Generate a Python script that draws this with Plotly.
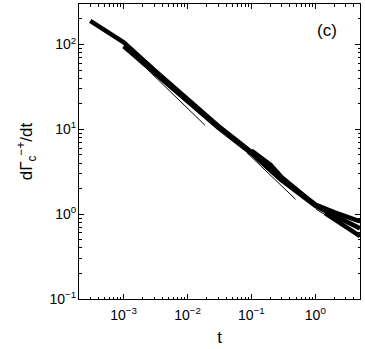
import plotly.graph_objects as go

# Thick simulation curves (t, dGamma/dt)
tA = [3e-4, 1e-3, 3e-3, 1e-2, 3e-2, 0.1, 0.2, 0.3, 1, 2, 5]
yA = [190, 106, 50, 22.5, 11, 5.4, 3.6, 2.6, 1.3, 1.05, 0.82]

tB = [1e-3, 3e-3, 1e-2, 3e-2, 0.1, 0.3, 1, 2, 5]
yB = [95, 47, 21.5, 10.5, 5.2, 2.5, 1.25, 0.95, 0.68]

tC = [5e-3, 1e-2, 3e-2, 0.1, 0.3]
yC = [34, 22, 10.8, 5.3, 2.5]

tD = [0.1, 0.15, 0.2, 0.3, 1]
yD = [5.6, 4.5, 3.8, 2.7, 1.28]

tE = [1.42, 2, 5]
yE = [1.03, 0.86, 0.55]

# Thin fit lines
tF1 = [1e-3, 0.0187]
yF1 = [95, 11.2]
tF2 = [0.085, 0.49]
yF2 = [5.3, 1.5]
tF3 = [1.03, 1.48]
yF3 = [1.14, 0.97]

# Tick labels
x_tickvals = [1e-3, 1e-2, 1e-1, 1]
x_ticktext = ["10<sup>−3</sup>", "10<sup>−2</sup>", "10<sup>−1</sup>", "10<sup>0</sup>"]
y_tickvals = [0.1, 1, 10, 100]
y_ticktext = ["10<sup>−1</sup>", "10<sup>0</sup>", "10<sup>1</sup>", "10<sup>2</sup>"]

thick = [(tA, yA), (tB, yB), (tC, yC), (tD, yD), (tE, yE)]
thin = [(tF1, yF1), (tF2, yF2), (tF3, yF3)]

fig = go.Figure()
for t, y in thick:
    fig.add_trace(go.Scatter(x=t, y=y, mode="lines",
                             line=dict(color="black", width=4.5),
                             showlegend=False, hoverinfo="skip"))
for t, y in thin:
    fig.add_trace(go.Scatter(x=t, y=y, mode="lines",
                             line=dict(color="black", width=1),
                             showlegend=False, hoverinfo="skip"))

def minor_vals(lo, hi):
    vals = []
    for e in range(lo, hi + 1):
        for m in range(2, 10):
            vals.append(m * 10.0 ** e)
    return vals

FONT = "Liberation Sans"

axis_common = dict(
    type="log", showgrid=False, zeroline=False, automargin=False,
    showline=True, linecolor="black", linewidth=1, mirror="ticks",
    ticks="inside", ticklen=5, tickcolor="black", tickmode="array",
    tickfont=dict(size=14, color="black", family=FONT),
)

fig.update_xaxes(range=[-3.699, 0.699],
                 tickvals=x_tickvals, ticktext=x_ticktext,
                 ticklabelstandoff=3,
                 minor=dict(ticks="inside", ticklen=2.5, tickcolor="black",
                            tickvals=minor_vals(-4, 0), showgrid=False),
                 title=dict(text="t", font=dict(size=17, color="black", family=FONT), standoff=9),
                 **axis_common)
fig.update_yaxes(range=[-1, 2.4771],
                 tickvals=y_tickvals, ticktext=y_ticktext,
                 ticklabelstandoff=-1,
                 minor=dict(ticks="inside", ticklen=2.5, tickcolor="black",
                            tickvals=minor_vals(-1, 2), showgrid=False),
                 title=dict(text="dΓ<sub>c</sub><sup>−+</sup>/dt",
                            font=dict(size=17, color="black", family=FONT), standoff=12),
                 **axis_common)

fig.add_annotation(x=0.882, y=0.91, xref="paper", yref="paper",
                   xanchor="center", yanchor="middle",
                   text="(c)", showarrow=False,
                   font=dict(size=17, color="black", family=FONT))

fig.update_layout(
    width=365, height=349,
    margin=dict(l=79, r=5, t=4, b=50),
    paper_bgcolor="white", plot_bgcolor="white",
    font=dict(family=FONT, color="black"),
)

fig.write_html("out.html", config={"displayModeBar": False},
               post_script="document.body.style.margin='0px';")
